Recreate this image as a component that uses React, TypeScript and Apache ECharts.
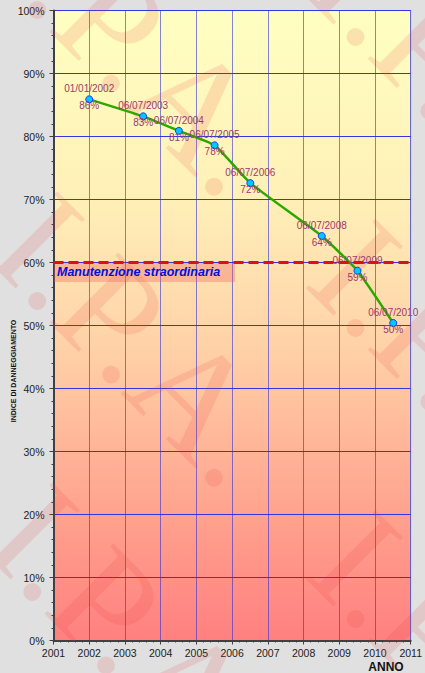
import { useEffect, useRef } from "react";
import * as echarts from "echarts";

const dateLabels = ["01/01/2002", "06/07/2003", "06/07/2004", "06/07/2005", "06/07/2006", "06/07/2008", "06/07/2009", "06/07/2010"];
const yearPositions = [2002.0, 2003.51, 2004.51, 2005.51, 2006.51, 2008.51, 2009.51, 2010.51];
const damageIndex = [85.9, 83.2, 80.9, 78.6, 72.6, 64.2, 58.7, 50.4];
const percentLabels = [86, 83, 81, 78, 72, 64, 59, 50];
const thresholdValue = 60;
const thresholdLabel = "Manutenzione straordinaria";
const yAxisTitle = "INDICE DI DANNEGGIAMENTO";
const xAxisTitle = "ANNO";
const watermark = "I.P.A.   I.P.A.   I.P.A.";

export default function App() {
  const ref = useRef<HTMLDivElement>(null);
  useEffect(() => {
    if (!ref.current) return;
    const chart = echarts.init(ref.current, undefined, { renderer: "svg" });
    const font = "Liberation Sans";
    const wmOrigins = [
      [20, -361],
      [20, -70],
      [20, 221],
      [15, 512],
    ];
    chart.setOption({
      animation: false,
      backgroundColor: "#e0e0e0",
      grid: {
        left: 53.5,
        right: 11.5,
        top: 10.5,
        bottom: 32.5,
        show: true,
        borderColor: "#a8a8a8",
        borderWidth: 1,
        backgroundColor: {
          type: "linear",
          x: 0,
          y: 0,
          x2: 0,
          y2: 1,
          colorStops: [
            { offset: 0, color: "#ffffc2" },
            { offset: 0.3, color: "#fff0b8" },
            { offset: 0.55, color: "#ffcfa6" },
            { offset: 0.8, color: "#ffa28e" },
            { offset: 1, color: "#ff8080" },
          ],
        },
      },
      xAxis: {
        type: "value",
        min: 2001,
        max: 2011,
        interval: 1,
        axisLine: { show: true, onZero: false, lineStyle: { color: "#404040", width: 2 } },
        axisTick: { show: true, length: 4, lineStyle: { color: "#404040" } },
        minorTick: { show: true, splitNumber: 5, length: 2, lineStyle: { color: "#404040" } },
        axisLabel: { color: "#222", fontSize: 10.5, fontFamily: font, margin: 7, formatter: (v: number) => String(v) },
        splitLine: { show: true, lineStyle: { color: "rgba(50,50,215,0.6)", width: 1 } },
      },
      yAxis: {
        type: "value",
        min: 0,
        max: 100,
        interval: 10,
        axisLine: { show: true, lineStyle: { color: "#404040", width: 2 } },
        axisTick: { show: true, length: 4, lineStyle: { color: "#404040" } },
        minorTick: { show: true, splitNumber: 5, length: 2, lineStyle: { color: "#404040" } },
        axisLabel: { color: "#222", fontSize: 10.5, fontFamily: font, margin: 9, formatter: "{value}%" },
        splitLine: { show: true, lineStyle: { color: "#3535e2", width: 1 } },
      },
      graphic: {
        elements: [
          ...wmOrigins.map(([x, y]) => ({
            type: "text",
            x,
            y,
            rotation: -Math.PI / 4,
            z: 1,
            silent: true,
            style: {
              text: watermark,
              fontSize: 150,
              fontFamily: "Liberation Serif",
              fill: "rgba(225,60,60,0.14)",
              align: "left",
              verticalAlign: "middle",
            },
          })),
          {
            type: "rect",
            z: 5,
            shape: { x: 54, y: 263, width: 181, height: 19 },
            style: { fill: "rgba(235,90,90,0.32)" },
          },
          {
            type: "text",
            z: 6,
            x: 57,
            y: 272,
            style: {
              text: thresholdLabel,
              fontSize: 12.5,
              fontStyle: "italic",
              fontWeight: "bold",
              fontFamily: font,
              fill: "#0010e0",
              verticalAlign: "middle",
            },
          },
          {
            type: "text",
            x: 13,
            y: 371,
            rotation: Math.PI / 2,
            style: {
              text: yAxisTitle,
              fontSize: 7,
              fontWeight: "bold",
              fontFamily: font,
              fill: "#111",
              align: "center",
              verticalAlign: "middle",
            },
          },
          {
            type: "text",
            x: 386,
            y: 667,
            style: {
              text: xAxisTitle,
              fontSize: 12,
              fontWeight: "bold",
              fontFamily: font,
              fill: "#111",
              align: "center",
              verticalAlign: "middle",
            },
          },
        ],
      },
      series: [
        {
          type: "line",
          data: yearPositions.map((x, i) => [x, damageIndex[i]]),
          smooth: 0.15,
          symbol: "circle",
          symbolSize: 7,
          itemStyle: { color: "#00c8ff", borderColor: "#1040ff", borderWidth: 1 },
          lineStyle: { color: "#2aa800", width: 2.5 },
          label: {
            show: true,
            position: "inside",
            offset: [0, -2],
            formatter: (p: any) => `{d|${dateLabels[p.dataIndex]}}\n{p|${percentLabels[p.dataIndex]}%}`,
            rich: {
              d: { color: "#9c3a6c", fontSize: 10, fontFamily: font, lineHeight: 17 },
              p: { color: "#9c3a6c", fontSize: 10, fontFamily: font, lineHeight: 17 },
            },
          },
          markLine: {
            silent: true,
            symbol: "none",
            label: { show: false },
            lineStyle: { color: "#dd1111", type: [10, 5], width: 3 },
            data: [{ yAxis: thresholdValue }],
          },
          z: 3,
        },
      ],
    });
    return () => chart.dispose();
  }, []);
  return (
    <div
      ref={ref}
      style={{ position: "absolute", left: 0, top: 0, width: 425, height: 673, background: "#e0e0e0" }}
    />
  );
}
